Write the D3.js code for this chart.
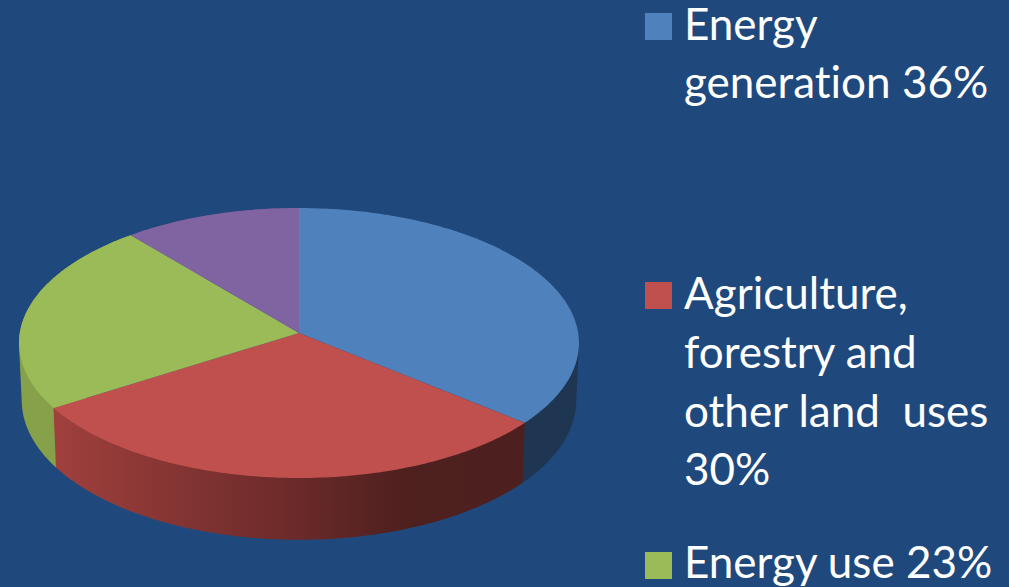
<!DOCTYPE html>
<html>
<head>
<meta charset="utf-8">
<script src="https://cdn.jsdelivr.net/npm/d3@7"></script>
<style>
html, body { margin: 0; padding: 0; background: #1f497d; overflow: hidden; }
text { font-family: Lato, "Open Sans", sans-serif; fill: #fff; white-space: pre; font-variant-ligatures: none; }
</style>
</head>
<body>
<div id="chart"></div>
<script>
var categories = ["Energy generation", "Agriculture, forestry and other land uses", "Energy use", "Other"];
var shares = [36, 30, 23, 11];
var colors = ["#4f81bd", "#c0504d", "#9bbb59", "#8064a2"];
var sideColors = ["#1f3653", "url(#redSide)", "#86a14a", "#6a5488"];
var legendLines = [
  ["Energy", "generation 36%"],
  ["Agriculture,", "forestry and", "other land  uses", "30%"],
  ["Energy use 23%"]
];

var width = 1009, height = 587;

var svg = d3.select("#chart")
  .append("svg")
  .attr("width", width)
  .attr("height", height)
  .style("display", "block");

var grad = svg.append("defs").append("linearGradient")
  .attr("id", "redSide")
  .attr("gradientUnits", "userSpaceOnUse")
  .attr("x1", 55).attr("x2", 522).attr("y1", 0).attr("y2", 0);
[[0, "#a0403d"], [0.2, "#8a3735"], [0.52, "#6a2a29"], [0.75, "#4e201e"], [1, "#4d1f1e"]].forEach(function(s){
  grad.append("stop").attr("offset", s[0]).attr("stop-color", s[1]);
});

// the pie plate is seen in perspective, so the rim is not a plain ellipse
var persp = -0.074;
function project(a, plane) {
  var u = Math.sin(a), v = -Math.cos(a);
  var w = 1 + persp * v;
  return [299 + plane.rx * u / w, plane.cy + plane.ry * v / w];
}
var topPlane = {rx: 279.2, ry: 134.26, cy: 333};
var bottomPlane = {rx: 276.5, ry: 138.7, cy: 390};

var pie = d3.pie().sort(null).value(function(d){ return d; });
var slices = pie(shares);
var line = d3.line();

function rim(d, plane) {
  var n = Math.ceil((d.endAngle - d.startAngle) * 60);
  return d3.range(n + 1).map(function(i){
    return project(d.startAngle + (d.endAngle - d.startAngle) * i / n, plane);
  });
}

// walls first, back to front, the top covers whatever part of them is at the back
// hull so the sliver between the two rims at the far left/right gets filled too
var wallOrder = [slices[3], slices[0], slices[2], slices[1]];
svg.append("g").selectAll("path")
  .data(wallOrder).enter().append("path")
  .attr("d", function(d){
    return line(d3.polygonHull(rim(d, topPlane).concat(rim(d, bottomPlane)))) + "Z";
  })
  .attr("fill", function(d){ return sideColors[d.index]; });

svg.append("g").selectAll("path")
  .data(slices).enter().append("path")
  .attr("d", function(d){
    return line([project(0, {rx: 0, ry: 0, cy: topPlane.cy})].concat(rim(d, topPlane))) + "Z";
  })
  .attr("fill", function(d){ return colors[d.index]; });

// legend
var legendTop = [13, 282, 552];
var legendBase = [[40, 98], [309, 368, 427, 485], [578]];
var legend = svg.append("g").selectAll("g")
  .data(legendLines).enter().append("g");

legend.append("rect")
  .attr("x", 645)
  .attr("y", function(d, i){ return legendTop[i]; })
  .attr("width", 27)
  .attr("height", 27)
  .attr("fill", function(d, i){ return colors[i]; });

legend.each(function(d, i){
  d3.select(this).selectAll("text")
    .data(d).enter().append("text")
    .attr("x", 684)
    .attr("y", function(t, j){ return legendBase[i][j]; })
    .attr("font-size", 44)
    .text(function(t){ return t; });
});
</script>
</body>
</html>
